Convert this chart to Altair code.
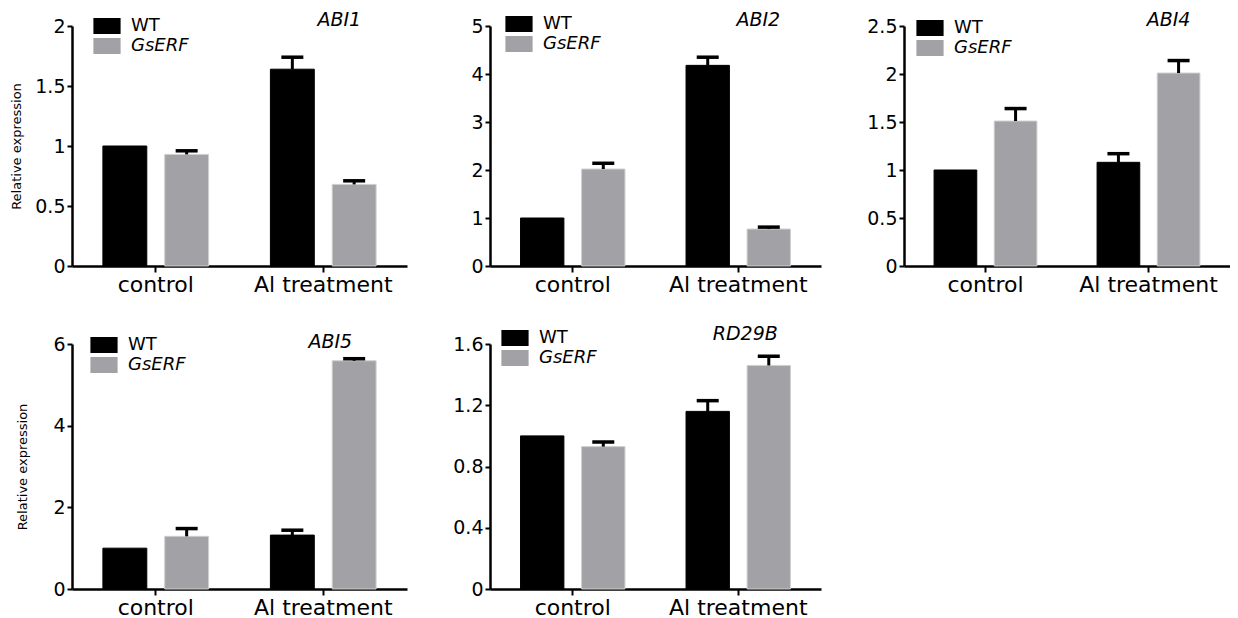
import altair as alt
import pandas as pd

genes = ["ABI1", "ABI2", "ABI4", "ABI5", "RD29B"]
conditions = ["control", "Al treatment"]
series = ["WT", "GsERF"]

abi1_wt = [1.00, 1.64]
abi1_wt_err = [0.00, 0.10]
abi1_gs = [0.93, 0.68]
abi1_gs_err = [0.03, 0.03]

abi2_wt = [1.00, 4.18]
abi2_wt_err = [0.00, 0.17]
abi2_gs = [2.02, 0.77]
abi2_gs_err = [0.12, 0.04]

abi4_wt = [1.00, 1.08]
abi4_wt_err = [0.00, 0.09]
abi4_gs = [1.51, 2.01]
abi4_gs_err = [0.13, 0.13]

abi5_wt = [1.00, 1.32]
abi5_wt_err = [0.00, 0.12]
abi5_gs = [1.29, 5.59]
abi5_gs_err = [0.19, 0.05]

rd29b_wt = [1.00, 1.16]
rd29b_wt_err = [0.00, 0.07]
rd29b_gs = [0.93, 1.46]
rd29b_gs_err = [0.03, 0.06]

y_max = [2, 5, 2.5, 6, 1.6]
y_ticks = [
    [0, 0.5, 1, 1.5, 2],
    [0, 1, 2, 3, 4, 5],
    [0, 0.5, 1, 1.5, 2, 2.5],
    [0, 2, 4, 6],
    [0, 0.4, 0.8, 1.2, 1.6],
]
y_title = "Relative expression"

FONT = "DejaVu Sans"
colors = ["#000000", "#a2a2a6"]
edges = ["#000000", "#cfcfcf"]


def panel(gene, wt, wt_err, gs, gs_err, ymax, ticks, w, h, lx, ly, tdx, tdy, show_title, tpad):
    df = pd.DataFrame({
        "condition": conditions * 2,
        "series": [series[0]] * 2 + [series[1]] * 2,
        "value": wt + gs,
        "err": wt_err + gs_err,
    })
    df["upper"] = df["value"] + df["err"]
    err_df = df[df["err"] > 0]
    lab_df = pd.DataFrame({"condition": ["Al treatment"], "y": [ymax], "gene": [gene]})

    x_axis = alt.Axis(title=None, labelAngle=0, labelFont=FONT, labelFontSize=22,
                      labelColor="black", tickSize=6, tickWidth=2, tickColor="black",
                      domainWidth=2.5, domainColor="black", labelPadding=2)
    x_enc = alt.X("condition:N", sort=conditions,
                  scale=alt.Scale(paddingInner=0, paddingOuter=0), axis=x_axis)
    xo_enc = alt.XOffset("series:N", sort=series,
                         scale=alt.Scale(domain=series, paddingInner=0.29, paddingOuter=0.5))
    if show_title:
        y_axis = alt.Axis(title=y_title, values=ticks, format="~g", grid=False,
                          labelFont=FONT, labelFontSize=19, labelColor="black",
                          tickSize=5, tickWidth=2, tickColor="black", labelPadding=2,
                          domainWidth=2.5, domainColor="black",
                          titleFont=FONT, titleFontSize=13, titleFontWeight="normal",
                          titleColor="black", titlePadding=tpad)
    else:
        y_axis = alt.Axis(title=None, values=ticks, format="~g", grid=False,
                          labelFont=FONT, labelFontSize=19, labelColor="black",
                          tickSize=5, tickWidth=2, tickColor="black", labelPadding=2,
                          domainWidth=2.5, domainColor="black")
    y_scale = alt.Scale(domain=[0, ymax], nice=False, zero=True)

    def ye(field):
        return alt.Y(field, type="quantitative", scale=y_scale, axis=y_axis)

    legend = alt.Legend(
        orient="none", legendX=lx, legendY=ly, title=None,
        symbolType="M-1.7,-1H1.7V1H-1.7Z", symbolSize=256, symbolStrokeWidth=0,
        labelFont=FONT, labelFontSize=18, labelColor="black",
        labelFontStyle={"expr": "datum.label == 'GsERF' ? 'italic' : 'normal'"},
        labelOffset=15, rowPadding=2, padding=0,
    )

    bars = alt.Chart(df).mark_bar(strokeWidth=1).encode(
        x=x_enc, xOffset=xo_enc, y=ye("value"),
        color=alt.Color("series:N", sort=series,
                        scale=alt.Scale(domain=series, range=colors), legend=legend),
        stroke=alt.Stroke("series:N", sort=series,
                          scale=alt.Scale(domain=series, range=edges), legend=None),
    )
    stems = alt.Chart(err_df).mark_rule(color="black", strokeWidth=3).encode(
        x=x_enc, xOffset=xo_enc, y=ye("value"), y2="upper:Q",
    )
    caps = alt.Chart(err_df).mark_tick(color="black", thickness=3.5, size=22, opacity=1).encode(
        x=x_enc, xOffset=xo_enc, y=ye("upper"),
    )
    label = alt.Chart(lab_df).mark_text(
        font=FONT, fontSize=19, fontStyle="italic", color="black",
        align="center", baseline="alphabetic", dx=tdx, dy=tdy,
    ).encode(x=x_enc, y=ye("y"), text="gene:N")

    return alt.layer(bars, stems, caps, label).properties(width=w, height=h)


p1 = panel(genes[0], abi1_wt, abi1_wt_err, abi1_gs, abi1_gs_err, y_max[0], y_ticks[0],
           335, 240, 26, -9, 16, 0, True, 11)
p2 = panel(genes[1], abi2_wt, abi2_wt_err, abi2_gs, abi2_gs_err, y_max[1], y_ticks[1],
           331, 240, 20, -11, 20, 0, False, 0)
p3 = panel(genes[2], abi4_wt, abi4_wt_err, abi4_gs, abi4_gs_err, y_max[2], y_ticks[2],
           326, 240, 17, -7, 20, 0, False, 0)
p4 = panel(genes[3], abi5_wt, abi5_wt_err, abi5_gs, abi5_gs_err, y_max[3], y_ticks[3],
           335, 245, 23, -8, 7, 4, True, 23)
p5 = panel(genes[4], rd29b_wt, rd29b_wt_err, rd29b_gs, rd29b_gs_err, y_max[4], y_ticks[4],
           331, 245, 16, -15, 7, -4, False, 0)

chart = alt.concat(p1, p2, p3, p4, p5, columns=3, spacing={"row": 78, "column": 83}).properties(
    bounds="flush",
    background="white",
    padding={"left": 2, "top": 3, "right": 0, "bottom": 0},
).resolve_scale(
    x="independent", y="independent", color="independent", stroke="independent",
    xOffset="independent",
).resolve_legend(color="independent").configure_view(
    strokeWidth=0, stroke="transparent"
)

chart.save("out.html", embed_options={"renderer": "svg", "actions": False})
